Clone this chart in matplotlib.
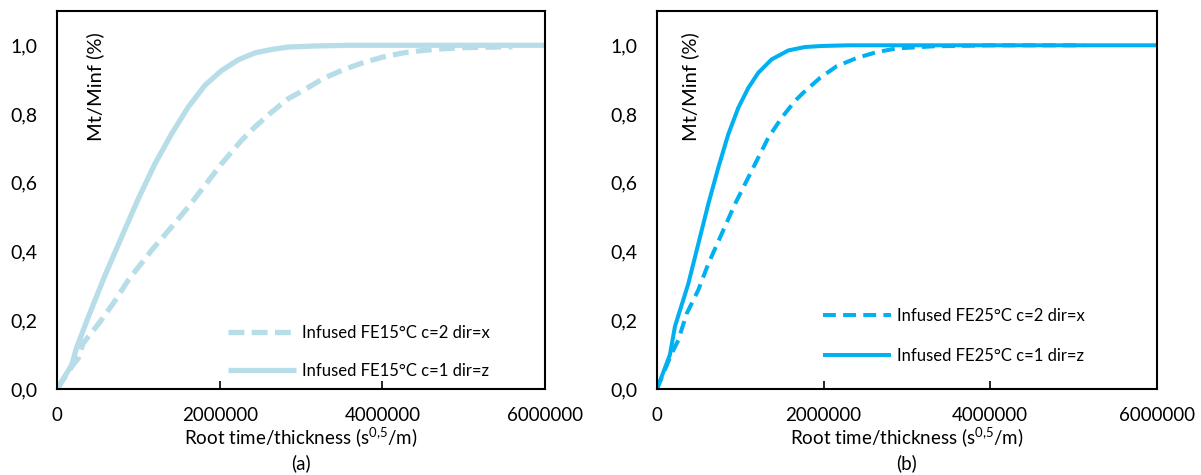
import matplotlib
matplotlib.use("Agg")
import matplotlib.pyplot as plt

plt.rcParams['font.family'] = ['Lato', 'DejaVu Sans']
plt.rcParams['mathtext.fontset'] = 'custom'
plt.rcParams['mathtext.rm'] = 'Lato'
plt.rcParams['mathtext.it'] = 'Lato'

# Panel (a) data
a_x_label = "Infused FE15°C c=2 dir=x"
a_x_t = [0, 0.18e6, 0.26e6, 0.32e6, 0.53e6, 0.69e6, 0.877e6, 1.164e6, 1.41e6, 1.615e6, 1.82e6,
         2.025e6, 2.27e6, 2.435e6, 2.64e6, 2.845e6, 3.03e6, 3.27e6, 3.52e6, 3.77e6, 4.01e6,
         4.26e6, 4.50e6, 4.75e6, 5.0e6, 5.6e6]
a_x_m = [0, 0.065, 0.089, 0.133, 0.196, 0.249, 0.317, 0.404, 0.472, 0.53, 0.593,
         0.656, 0.724, 0.763, 0.806, 0.845, 0.869, 0.903, 0.929, 0.95, 0.966,
         0.978, 0.985, 0.99, 0.993, 0.996]
a_z_label = "Infused FE15°C c=1 dir=z"
a_z_t = [0, 0.18e6, 0.24e6, 0.385e6, 0.59e6, 0.795e6, 1.0e6, 1.205e6, 1.41e6, 1.615e6, 1.82e6,
         2.025e6, 2.23e6, 2.435e6, 2.64e6, 2.845e6, 3.17e6, 3.6e6, 6.0e6]
a_z_m = [0, 0.07, 0.12, 0.21, 0.331, 0.443, 0.554, 0.656, 0.743, 0.821, 0.884,
         0.927, 0.958, 0.978, 0.988, 0.995, 0.998, 1.0, 1.0]

# Panel (b) data
b_x_label = "Infused FE25°C c=2 dir=x"
b_x_t = [0, 0.176e6, 0.256e6, 0.356e6, 0.496e6, 0.616e6, 0.776e6, 0.936e6, 1.056e6, 1.176e6,
         1.336e6, 1.496e6, 1.656e6, 1.756e6, 1.956e6, 2.156e6, 2.396e6, 2.636e6, 2.876e6,
         3.316e6, 4.0e6, 5.12e6]
b_x_m = [0, 0.103, 0.142, 0.219, 0.288, 0.364, 0.451, 0.538, 0.596, 0.654,
         0.731, 0.789, 0.838, 0.862, 0.905, 0.939, 0.963, 0.98, 0.991,
         0.997, 1.0, 1.0]
b_z_label = "Infused FE25°C c=1 dir=z"
b_z_t = [0, 0.156e6, 0.216e6, 0.376e6, 0.496e6, 0.616e6, 0.736e6, 0.856e6, 0.976e6, 1.096e6,
         1.216e6, 1.376e6, 1.576e6, 1.776e6, 1.976e6, 2.3e6, 6.0e6]
b_z_m = [0, 0.1, 0.182, 0.306, 0.422, 0.538, 0.644, 0.741, 0.818, 0.876,
         0.92, 0.959, 0.985, 0.995, 0.998, 1.0, 1.0]

x_ticks = [0, 2000000, 4000000, 6000000]
y_ticks = [0.0, 0.2, 0.4, 0.6, 0.8, 1.0]
y_tick_labels = ["0,0", "0,2", "0,4", "0,6", "0,8", "1,0"]
panel_labels = ["(a)", "(b)"]

fig = plt.figure(figsize=(12.01, 4.75), dpi=100)
ax1 = fig.add_axes([0.0475, 0.181, 0.4063, 0.796])
ax2 = fig.add_axes([0.547, 0.181, 0.4163, 0.796])

panels = [
    (ax1, '#B7DEE8', 3.8, (3.0, 1.4), a_x_t, a_x_m, a_x_label, a_z_t, a_z_m, a_z_label,
     (0.35, 0.098), 0.078, 1.3),
    (ax2, '#00B0F0', 2.9, (3.2, 1.8), b_x_t, b_x_m, b_x_label, b_z_t, b_z_m, b_z_label,
     (0.332, 0.141), 0.066, 1.45),
]

for i, (ax, col, lw, dash, xt, xm, xl, zt, zm, zl, legpos, ylx, ls) in enumerate(panels):
    ax.plot(xt, xm, color=col, lw=lw, dashes=dash, dash_capstyle='butt', label=xl)
    ax.plot(zt, zm, color=col, lw=lw, label=zl, solid_capstyle='butt')
    ax.set_xlim(0, 6000000)
    ax.set_ylim(0, 1.1)
    ax.set_xticks(x_ticks)
    ax.set_xticklabels([str(v) for v in x_ticks], fontsize=13.5)
    ax.set_yticks(y_ticks)
    ax.set_yticklabels(y_tick_labels, fontsize=14)
    ax.tick_params(axis='x', direction='in', length=6, width=1.2, pad=13)
    ax.tick_params(axis='y', length=0, pad=14)
    for s in ax.spines.values():
        s.set_linewidth(1.5)
        s.set_color('black')
    ax.set_xlabel(r"Root time/thickness (s$^{0{,}5}$/m)", fontsize=13.5, labelpad=1)
    ax.text(ylx, 0.80, "Mt/Minf (%)", transform=ax.transAxes, rotation=90,
            ha='center', va='center', fontsize=14.5)
    ax.legend(loc='center left', bbox_to_anchor=legpos, frameon=False, fontsize=12,
              handlelength=4.1, handletextpad=0.36, labelspacing=ls, borderpad=0,
              borderaxespad=0)
    bb = ax.get_position()
    fig.text(bb.x0 + bb.width / 2, 0.024, panel_labels[i], ha='center', va='center', fontsize=13.5)

fig.savefig("out.png", dpi=100)
